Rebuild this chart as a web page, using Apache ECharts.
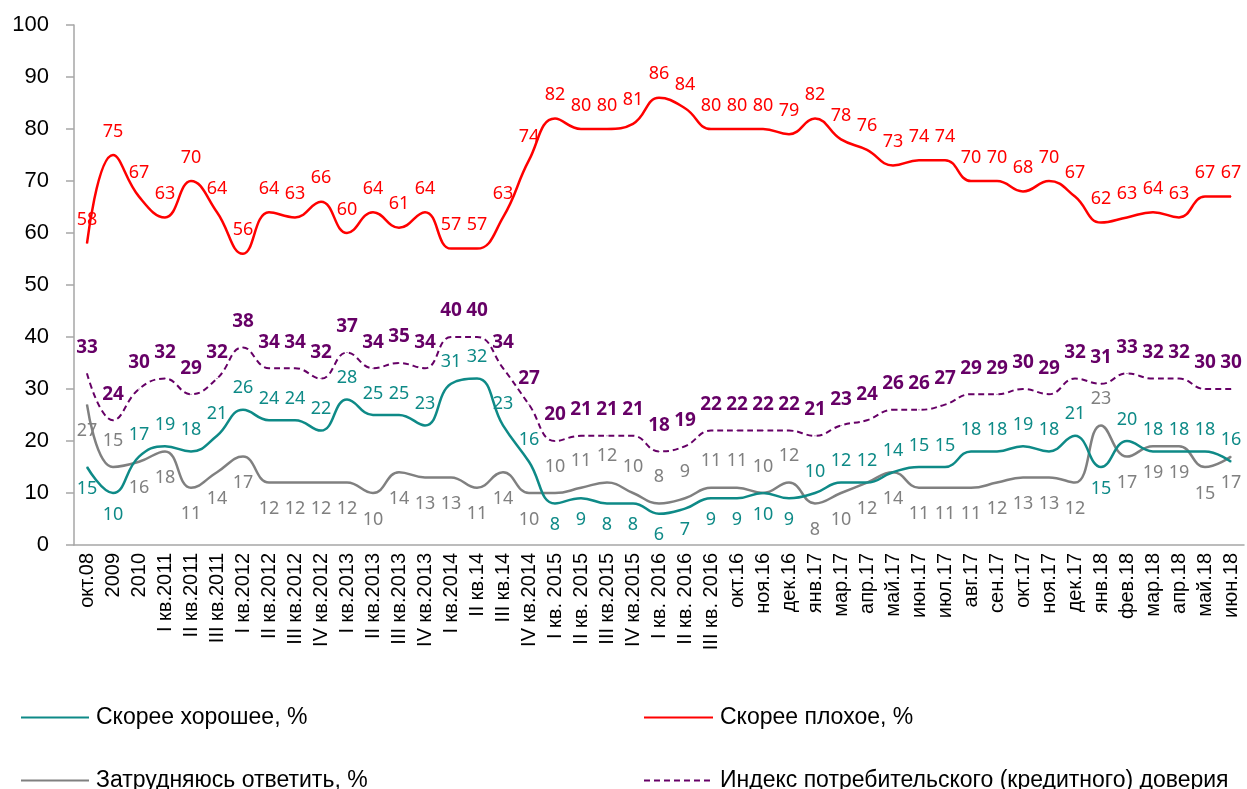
<!DOCTYPE html>
<html>
<head>
<meta charset="utf-8">
<title>Индекс потребительского доверия</title>
<script src="https://cdn.jsdelivr.net/npm/echarts@6/dist/echarts.min.js"></script>
<style>
  html, body { margin: 0; padding: 0; background: #fff; }
  #chart { width: 1247px; height: 789px; }
</style>
</head>
<body>
<div id="chart"></div>
<script>
// подписи по оси X
var categories = ['окт.08', '2009', '2010', 'I кв.2011', 'II кв.2011', 'III кв.2011',
  'I кв.2012', 'II кв.2012', 'III кв.2012', 'IV кв.2012', 'I кв.2013', 'II кв.2013',
  'III кв.2013', 'IV кв.2013', 'I кв.2014', 'II кв.14', 'III кв.14', 'IV кв.2014',
  'I кв. 2015', 'II кв. 2015', 'III кв.2015', 'IV кв.2015', 'I кв. 2016', 'II кв. 2016',
  'III кв. 2016', 'окт.16', 'ноя.16', 'дек.16', 'янв.17', 'мар.17', 'апр.17', 'май.17',
  'июн.17', 'июл.17', 'авг.17', 'сен.17', 'окт.17', 'ноя.17', 'дек.17', 'янв.18',
  'фев.18', 'мар.18', 'апр.18', 'май.18', 'июн.18'];

// Скорее хорошее, %
var good = [15, 10, 17, 19, 18, 21, 26, 24, 24, 22, 28, 25, 25, 23, 31, 32, 23, 16,
  8, 9, 8, 8, 6, 7, 9, 9, 10, 9, 10, 12, 12, 14, 15, 15, 18, 18, 19, 18, 21, 15,
  20, 18, 18, 18, 16];
// Скорее плохое, %
var bad = [58, 75, 67, 63, 70, 64, 56, 64, 63, 66, 60, 64, 61, 64, 57, 57, 63, 74,
  82, 80, 80, 81, 86, 84, 80, 80, 80, 79, 82, 78, 76, 73, 74, 74, 70, 70, 68, 70, 67,
  62, 63, 64, 63, 67, 67];
// Затрудняюсь ответить, %
var hard = [27, 15, 16, 18, 11, 14, 17, 12, 12, 12, 12, 10, 14, 13, 13, 11, 14, 10,
  10, 11, 12, 10, 8, 9, 11, 11, 10, 12, 8, 10, 12, 14, 11, 11, 11, 12, 13, 13, 12,
  23, 17, 19, 19, 15, 17];
// Индекс потребительского (кредитного) доверия
var index = [33, 24, 30, 32, 29, 32, 38, 34, 34, 32, 37, 34, 35, 34, 40, 40, 34, 27,
  20, 21, 21, 21, 18, 19, 22, 22, 22, 22, 21, 23, 24, 26, 26, 27, 29, 29, 30, 29, 32,
  31, 33, 32, 32, 30, 30];

// где подписи стоят не как у остальных точек (номера точек)
var goodBelow = [0, 1, 18, 19, 20, 21, 22, 23, 24, 25, 26, 27, 39];
var hardAbove = [1, 18, 19, 20, 21, 22, 23, 24, 25, 26, 27, 39];

function placeLabels(values, idx, pos) {
  return values.map(function (v, i) {
    return idx.indexOf(i) >= 0 ? { value: v, label: { position: pos } } : v;
  });
}

var TEAL = '#0E8A87', RED = '#FF0000', GRAY = '#808080', PURPLE = '#660066';

var chart = echarts.init(document.getElementById('chart'), null, { renderer: 'canvas' });

function legendAt(name, left, top, w) {
  return {
    data: [name], left: left, top: top, orient: 'horizontal',
    itemWidth: w, itemHeight: 14, itemGap: 0, selectedMode: false,
    itemStyle: { opacity: 0 },
    textStyle: { fontFamily: 'Liberation Sans', fontSize: 23, color: '#000', padding: [0, 0, 0, 2] }
  };
}

function lineSeries(name, data, color, labelPos, labelDist, extra) {
  var s = {
    name: name,
    type: 'line', smooth: 0.45,
    symbol: 'circle', symbolSize: 1, showSymbol: true,
    data: data,
    lineStyle: { color: color, width: 2.5 },
    itemStyle: { color: color },
    label: { show: true, position: labelPos, distance: labelDist, color: color,
      fontFamily: 'Noto Sans', fontSize: 18 }
  };
  return Object.assign(s, extra || {});
}

var option = {
  animation: false,
  backgroundColor: '#fff',
  grid: { left: 74, right: 3, top: 25, bottom: 244, containLabel: false },
  legend: [
    legendAt('Скорее хорошее, %', 15, 701, 68),
    legendAt('Скорее плохое, %', 638, 701, 69),
    legendAt('Затрудняюсь ответить, %', 15, 764, 68),
    legendAt('Индекс потребительского (кредитного) доверия', 638, 764, 69)
  ],
  xAxis: {
    type: 'category',
    data: categories,
    boundaryGap: true,
    axisLine: { lineStyle: { color: '#A6A6A6', width: 1.5 } },
    axisTick: { show: false },
    axisLabel: {
      interval: 0, rotate: 90, margin: 8,
      fontFamily: 'Liberation Sans', fontSize: 20, color: '#000'
    }
  },
  yAxis: {
    type: 'value',
    min: 0, max: 100, interval: 10,
    splitLine: { show: false },
    axisLine: { show: true, lineStyle: { color: '#A6A6A6', width: 1.5 } },
    axisTick: { show: true, length: 8, lineStyle: { color: '#A6A6A6', width: 1.5 } },
    axisLabel: { margin: 25, fontFamily: 'Liberation Sans', fontSize: 22, color: '#000' }
  },
  series: [
    lineSeries('Затрудняюсь ответить, %', placeLabels(hard, hardAbove, 'top'), GRAY, 'bottom', 17),
    lineSeries('Скорее хорошее, %', placeLabels(good, goodBelow, 'bottom'), TEAL, 'top', 12),
    lineSeries('Скорее плохое, %', bad, RED, 'top', 14),
    lineSeries('Индекс потребительского (кредитного) доверия', index, PURPLE, 'top', 16, {
      lineStyle: { color: PURPLE, width: 2, type: [6, 4] },
      label: { show: true, position: 'top', distance: 16, color: PURPLE,
        fontFamily: 'Noto Sans', fontSize: 19, fontWeight: 'bold' }
    })
  ]
};

chart.setOption(option);
</script>
</body>
</html>
